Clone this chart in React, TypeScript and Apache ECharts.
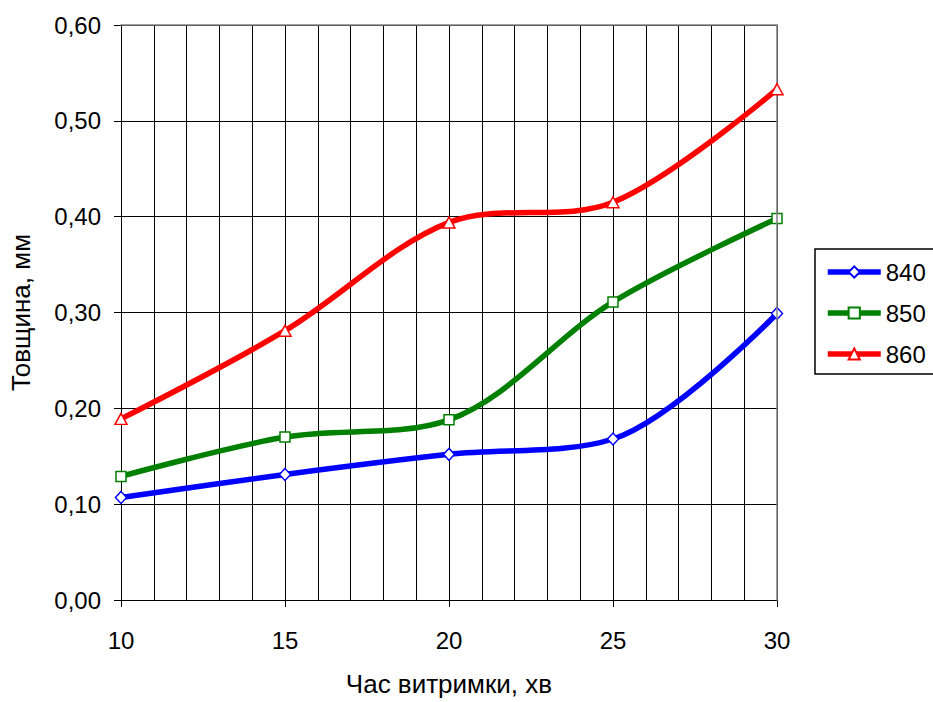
import React, { useEffect, useRef } from "react";
import * as echarts from "echarts";

const xValues = [10, 15, 20, 25, 30];
const s840 = [0.107, 0.131, 0.152, 0.168, 0.299];
const s850 = [0.129, 0.170, 0.188, 0.311, 0.398];
const s860 = [0.189, 0.281, 0.394, 0.415, 0.533];
const seriesNames = ["840", "850", "860"];
const seriesColors = ["#0000FF", "#008000", "#FF0000"];
const seriesSymbols = ["diamond", "rect", "triangle"];
const seriesSymbolSizes: any[] = [[11, 12], [10, 10], [12, 11]];
const xAxisName = "Час витримки, хв";
const yAxisName = "Товщина, мм";

const FONT = "'Liberation Sans', Arial, sans-serif";

export default function App() {
  const ref = useRef<HTMLDivElement>(null);
  useEffect(() => {
    if (!ref.current) return;
    const chart = echarts.init(ref.current, undefined, { renderer: "svg" });
    const allData = [s840, s850, s860];
    const series = allData.map((vals, i) => ({
      name: seriesNames[i],
      type: "line",
      smooth: 0.33,
      data: xValues.map((x, j) => [x, vals[j]]),
      symbol: seriesSymbols[i],
      symbolSize: seriesSymbolSizes[i],
      showAllSymbol: true,
      lineStyle: { color: seriesColors[i], width: 5.5 },
      itemStyle: { color: "#FFFFFF", borderColor: seriesColors[i], borderWidth: 1.5 },
      emphasis: { disabled: true },
      z: 3 + i,
    }));
    chart.setOption({
      animation: false,
      backgroundColor: "#FFFFFF",
      textStyle: { fontFamily: FONT },
      grid: { left: 121, width: 656, top: 25, height: 580, containLabel: false },
      legend: {
        orient: "vertical",
        left: 815,
        top: 249,
        padding: [11, 8, 8, 10],
        itemWidth: 53,
        itemHeight: 14,
        itemGap: 17,
        borderColor: "#000000",
        borderWidth: 1.5,
        lineStyle: { width: 5.5 },
        textStyle: { fontSize: 24, color: "#000000", fontFamily: FONT, lineHeight: 24 },
        data: seriesNames,
      },
      xAxis: [
        {
          type: "value",
          min: 10,
          max: 30,
          interval: 5,
          name: xAxisName,
          nameLocation: "middle",
          nameGap: 71,
          nameTextStyle: { fontSize: 26, color: "#000000", fontFamily: FONT },
          axisLine: { show: true, lineStyle: { color: "#000000", width: 1 } },
          axisTick: { show: true, length: 7, lineStyle: { color: "#000000", width: 1 } },
          axisLabel: { fontSize: 24, color: "#000000", margin: 28, fontFamily: FONT },
          splitLine: { show: true, lineStyle: { color: "#000000", width: 1 } },
          minorTick: { show: false, splitNumber: 5 },
          minorSplitLine: { show: true, lineStyle: { color: "#000000", width: 1 } },
        },
        {
          type: "value",
          position: "top",
          min: 10,
          max: 30,
          z: 5,
          axisLine: { show: true, onZero: false, lineStyle: { color: "#808080", width: 1.5 } },
          axisTick: { show: false },
          axisLabel: { show: false },
          splitLine: { show: false },
        },
      ],
      yAxis: [
        {
          type: "value",
          min: 0,
          max: 0.6,
          interval: 0.1,
          name: yAxisName,
          nameLocation: "middle",
          nameGap: 87,
          nameTextStyle: { fontSize: 26, color: "#000000", fontFamily: FONT },
          axisLine: { show: true, lineStyle: { color: "#000000", width: 1 } },
          axisTick: { show: true, length: 7, lineStyle: { color: "#000000", width: 1 } },
          axisLabel: {
            fontSize: 24,
            color: "#000000",
            margin: 20,
            fontFamily: FONT,
            formatter: (v: number) => v.toFixed(2).replace(".", ","),
          },
          splitLine: { show: true, lineStyle: { color: "#000000", width: 1 } },
        },
        {
          type: "value",
          position: "right",
          min: 0,
          max: 0.6,
          z: 5,
          axisLine: { show: true, onZero: false, lineStyle: { color: "#808080", width: 1.5 } },
          axisTick: { show: false },
          axisLabel: { show: false },
          splitLine: { show: false },
        },
      ],
      series,
    });
    return () => chart.dispose();
  }, []);
  return (
    <div
      ref={ref}
      style={{ position: "fixed", left: 0, top: 0, width: 933, height: 702, background: "#fff" }}
    />
  );
}
